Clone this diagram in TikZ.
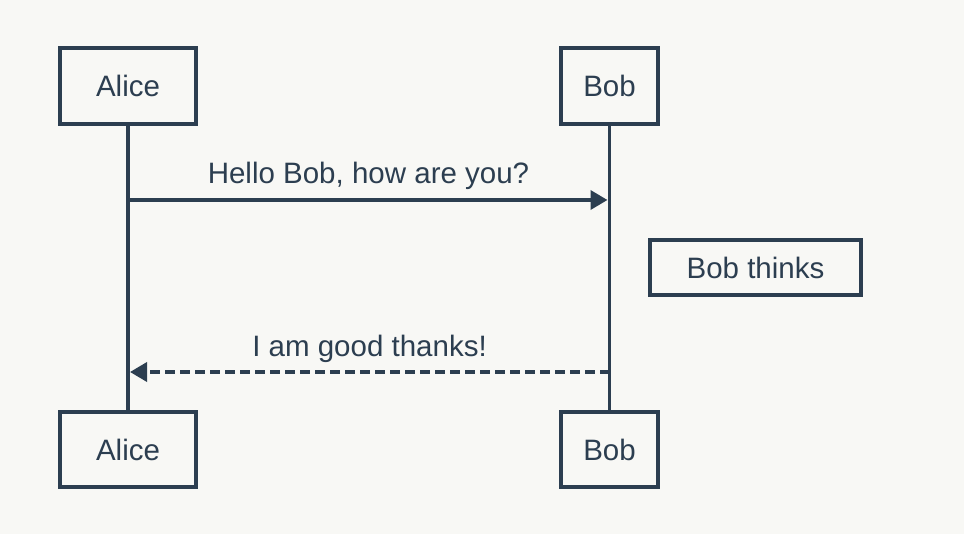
\documentclass[tikz,border=0pt]{standalone}
\usepackage{fontspec}
\setmainfont{Liberation Sans}
\usetikzlibrary{arrows.meta}
\definecolor{ink}{HTML}{2C3E50}
\definecolor{bg}{HTML}{F8F8F5}
\tikzset{
  actor/.style={draw=ink, line width=4pt, fill=bg, text=ink, inner sep=0pt,
    minimum height=76pt, font=\fontsize{29.5}{35}\selectfont},
  notebox/.style={draw=ink, line width=4pt, fill=bg, text=ink, inner sep=0pt,
    minimum width=211pt, minimum height=55pt, font=\fontsize{29.5}{35}\selectfont},
  lifeline/.style={draw=ink, line width=3.6pt},
  msg/.style={draw=ink, line width=3.6pt, -{Triangle[length=17pt,width=19pt]}, shorten >=2pt},
  reply/.style={msg, dash pattern=on 10pt off 5pt},
  msglabel/.style={text=ink, anchor=base, inner sep=0pt, font=\fontsize{29.5}{35}\selectfont}
}
\begin{document}
\begin{tikzpicture}[x=1pt,y=-1pt]
\fill[bg] (0,0) rectangle (964,534);
\useasboundingbox (0,0) rectangle (964,534);
% lifelines first (under boxes)
\coordinate (atop) at (128,124);
\coordinate (abot) at (128,412);
\coordinate (btop) at (609.5,124);
\coordinate (bbot) at (609.5,412);
\draw[lifeline] (atop) -- (abot);
\draw[lifeline] (btop) -- (bbot);
% actors
\node[actor, minimum width=136pt] (alice) at (128,86) {Alice};
\node[actor, minimum width=97pt] (bob) at (609.5,86) {Bob};
\node[actor, minimum width=136pt, minimum height=75pt] (aliceB) at (128,449.5) {Alice};
\node[actor, minimum width=97pt, minimum height=75pt] (bobB) at (609.5,449.5) {Bob};
% note
\node[notebox] (note) at (755.5,267.5) {Bob thinks};
% messages
\coordinate (m1s) at (128,200);
\coordinate (m1e) at (609.5,200);
\draw[msg] (m1s) -- (m1e);
\node[msglabel] (l1) at (368.5,184) {Hello Bob, how are you?};
\coordinate (m2s) at (609.5,372);
\coordinate (m2e) at (128,372);
\draw[reply] (m2s) -- (m2e);
\node[msglabel] (l2) at (369.5,357) {I am good thanks!};
\end{tikzpicture}
\end{document}
